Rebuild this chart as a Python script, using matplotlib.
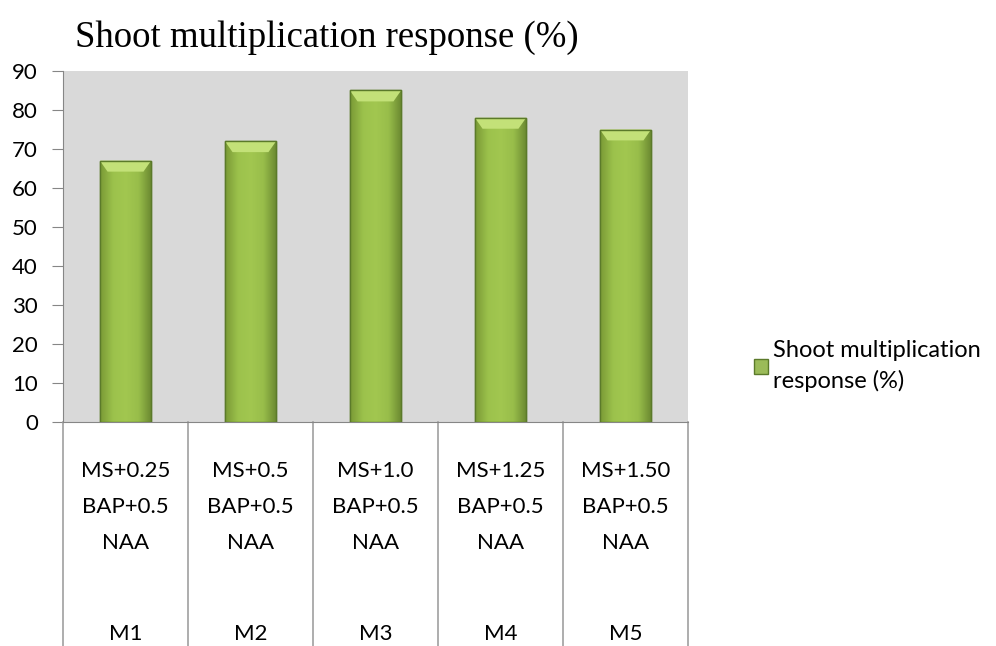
import numpy as np
import matplotlib
matplotlib.use("Agg")
import matplotlib.pyplot as plt
from matplotlib.colors import LinearSegmentedColormap

# data
media = ["MS+0.25\nBAP+0.5\nNAA", "MS+0.5\nBAP+0.5\nNAA", "MS+1.0\nBAP+0.5\nNAA",
         "MS+1.25\nBAP+0.5\nNAA", "MS+1.50\nBAP+0.5\nNAA"]
codes = ["M1", "M2", "M3", "M4", "M5"]
response = [67, 72, 85, 78, 75]
yticks = [0, 10, 20, 30, 40, 50, 60, 70, 80, 90]

plt.rcParams['font.family'] = ['Lato', 'DejaVu Sans']

fig = plt.figure(figsize=(9.96, 6.46), dpi=100)
ax = fig.add_axes([63/996, 1 - 422/646, 625/996, 351/646])
ax.set_facecolor("#d9d9d9")

x = np.arange(len(response))
bars = ax.bar(x, response, width=0.41, color="#9bbb59", edgecolor="#5b7a2a",
              linewidth=1.0, zorder=3, label="Shoot multiplication\nresponse (%)")

# soft horizontal gradient + light bevel on top of each bar
grad = LinearSegmentedColormap.from_list("g", ["#7a9a36", "#9cc24c", "#a2c750", "#98bd4a", "#6a8830"])
for b in bars:
    x0, y0 = b.get_x(), b.get_y()
    w, h = b.get_width(), b.get_height()
    img = np.linspace(0, 1, 64).reshape(1, -1)
    im = ax.imshow(img, cmap=grad, aspect="auto", extent=[x0, x0 + w, y0, y0 + h],
                   zorder=3.5, interpolation="bicubic")
    im.set_clip_path(b)
    # bevel at the top
    top = np.array([[x0, y0 + h], [x0 + w, y0 + h], [x0 + w * 0.85, y0 + h - 2.8],
                    [x0 + w * 0.15, y0 + h - 2.8]])
    ax.fill(top[:, 0], top[:, 1], color="#c3e178", zorder=4, lw=0)
    ax.plot([x0, x0 + w, x0 + w, x0, x0], [y0, y0, y0 + h, y0 + h, y0],
            color="#5b7a2a", lw=1.0, zorder=4.5)

ax.set_xlim(-0.5, len(response) - 0.5)
ax.set_ylim(0, 90)
ax.set_yticks(yticks)
ax.tick_params(axis="y", length=8, color="#868686", labelsize=16, pad=10)
ax.set_xticks([])

for s in ["top", "right"]:
    ax.spines[s].set_visible(False)
for s in ["left", "bottom"]:
    ax.spines[s].set_color("#868686")

# category table below the axis
trans = ax.get_xaxis_transform()
for xb in np.arange(-0.5, len(response), 1.0):
    ax.plot([xb, xb], [0, -0.7], color="#a0a0a0", lw=1.2, transform=trans, clip_on=False)
for i in range(len(response)):
    ax.text(x[i], -0.11, media[i], transform=trans, ha="center", va="top",
            fontsize=16, linespacing=2.0)
    ax.text(x[i], -0.575, codes[i], transform=trans, ha="center", va="top", fontsize=16)

fig.text(327/996, 1 - 38/646, "Shoot multiplication response (%)", ha="center",
         va="center", fontsize=26.5, family="Liberation Serif")

ax.legend(loc="center left", bbox_to_anchor=(1.09, 0.16), frameon=False, fontsize=17,
          handlelength=0.6, handleheight=0.6, handletextpad=0.2, borderaxespad=0,
          labelspacing=0)
plt.setp(ax.get_legend().get_texts(), linespacing=1.5)

fig.savefig("out.png", dpi=100)
